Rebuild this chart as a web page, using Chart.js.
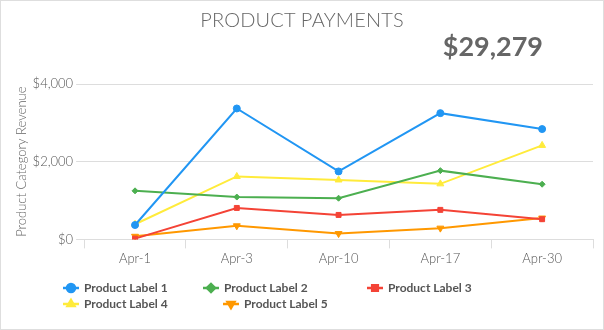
<!DOCTYPE html>
<html>
<head>
<meta charset="utf-8">
<script src="https://cdn.jsdelivr.net/npm/chart.js@4.4.1/dist/chart.umd.min.js"></script>
<style>
  html, body { margin: 0; padding: 0; background: #fff; }
  #wrap {
    position: relative; width: 604px; height: 330px;
    box-sizing: border-box; border: 1px solid #dedede;
    font-family: Lato, "Open Sans", sans-serif; overflow: hidden;
  }
  #chartBox { position: absolute; left: 0; top: 0; width: 602px; height: 328px; }
  #title {
    position: absolute; left: 0; right: 0; top: 6px; text-align: center;
    font-size: 20px; font-weight: 300; color: #666; letter-spacing: 0.2px;
  }
  #total {
    position: absolute; right: 60px; top: 28px;
    font-size: 27px; font-weight: 700; color: #666;
  }
  .legend-item {
    position: absolute; display: flex; align-items: center;
    font-size: 12px; font-weight: 700; color: #555; white-space: nowrap;
  }
  .legend-item canvas { margin-right: 5px; }
</style>
</head>
<body>
<div id="wrap">
  <div id="chartBox"><canvas id="paymentChart"></canvas></div>
  <div id="title">PRODUCT PAYMENTS</div>
  <div id="total">$29,279</div>
  <div id="legend"></div>
</div>
<script>
const days = ['Apr-1', 'Apr-3', 'Apr-10', 'Apr-17', 'Apr-30'];
const seriesNames = ['Product Label 1', 'Product Label 2', 'Product Label 3', 'Product Label 4', 'Product Label 5'];
const label1 = [370, 3370, 1750, 3250, 2840];
const label2 = [1250, 1090, 1060, 1770, 1420];
const label3 = [20, 810, 630, 760, 520];
const label4 = [390, 1620, 1530, 1430, 2420];
const label5 = [80, 350, 150, 290, 550];
const yTicks = [0, 2000, 4000];
const totalText = '$29,279';

const colors = ['#2196F3', '#4CAF50', '#F44336', '#FFEB3B', '#FF9800'];
const shapes = ['circle', 'rectRot', 'rect', 'triangle', 'triangle'];
const rotations = [0, 0, 0, 0, 180];
const radii = [3.5, 3, 3.5, 4, 4];
const values = [label1, label2, label3, label4, label5];

document.getElementById('total').textContent = totalText;

const makeDatasets = () => {
  let list = new Array();
  for (const i in seriesNames) {
    list.push({
      label: seriesNames[i],
      data: values[i],
      borderColor: colors[i],
      backgroundColor: colors[i],
      borderWidth: 2,
      pointStyle: shapes[i],
      rotation: rotations[i],
      pointRadius: radii[i],
      pointHoverRadius: radii[i],
      pointBorderWidth: 1,
      tension: 0
    });
  }
  return list;
}

const money = (v) => '$' + v.toLocaleString('en-US');
const axisFont = { family: 'Lato', size: 13, weight: 300 };

const ctx = document.getElementById('paymentChart');
const chart = new Chart(ctx, {
  type: 'line',
  data: { labels: days, datasets: makeDatasets() },
  options: {
    responsive: true,
    maintainAspectRatio: false,
    animation: false,
    layout: { padding: { left: 13, right: 10, top: 83, bottom: 59 } },
    plugins: {
      legend: { display: false },
      tooltip: { enabled: false }
    },
    scales: {
      x: {
        offset: true,
        grid: { offset: true, drawOnChartArea: false, color: '#dddddd', tickLength: 9 },
        border: { display: false },
        ticks: { color: '#555', font: axisFont, padding: 3 }
      },
      y: {
        min: 0,
        max: 4000,
        afterBuildTicks: (axis) => { axis.ticks = yTicks.map(v => ({ value: v })); },
        grid: { color: '#dddddd', tickLength: 8 },
        border: { display: false },
        title: {
          display: true, text: 'Product Category Revenue',
          color: '#666', font: axisFont, padding: 0
        },
        ticks: {
          color: '#555', font: axisFont, padding: 3,
          callback: (v) => money(v)
        }
      }
    }
  }
});

// legend built from the chart's own datasets
const legendSpots = [[62, 279], [202, 279], [366, 279], [62, 295], [222, 295]];
const buildLegend = () => {
  const box = document.getElementById('legend');
  chart.data.datasets.forEach((ds, i) => {
    const item = document.createElement('div');
    item.className = 'legend-item';
    item.style.left = legendSpots[i][0] + 'px';
    item.style.top = legendSpots[i][1] + 'px';
    const icon = document.createElement('canvas');
    icon.width = 16; icon.height = 14;
    const c = icon.getContext('2d');
    c.strokeStyle = ds.borderColor;
    c.lineWidth = 2.5;
    c.beginPath(); c.moveTo(0, 7); c.lineTo(16, 7); c.stroke();
    c.fillStyle = ds.backgroundColor;
    Chart.helpers.drawPoint(c, {
      pointStyle: ds.pointStyle, rotation: ds.rotation, radius: 4, borderWidth: 1
    }, 8, 7);
    item.appendChild(icon);
    const txt = document.createElement('span');
    txt.textContent = ds.label;
    item.appendChild(txt);
    box.appendChild(item);
  });
}
buildLegend();
</script>
</body>
</html>
